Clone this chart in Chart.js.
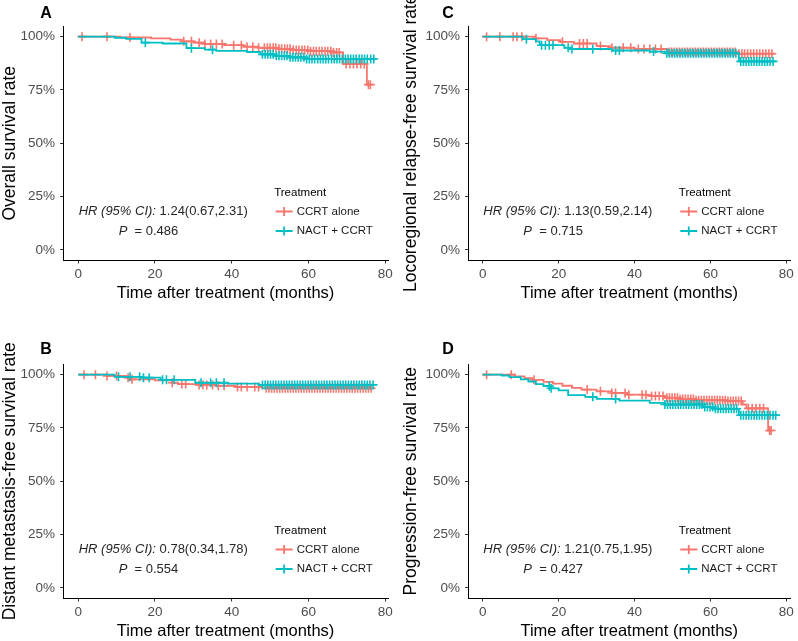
<!DOCTYPE html>
<html>
<head>
<meta charset="utf-8">
<script src="https://cdn.jsdelivr.net/npm/chart.js@4.4.0/dist/chart.umd.min.js"></script>
<style>
  body { margin: 0; background: #fff; }
  #wrap { position: relative; width: 798px; height: 641px; }
  canvas { position: absolute; }
</style>
</head>
<body>
<div id="wrap">
  <canvas id="chartA" width="399" height="303" style="left:0;top:0"></canvas>
  <canvas id="chartC" width="398" height="303" style="left:400px;top:0"></canvas>
  <canvas id="chartB" width="399" height="303" style="left:0;top:338px"></canvas>
  <canvas id="chartD" width="398" height="303" style="left:400px;top:338px"></canvas>
</div>
<script>
const xTicks = [0, 20, 40, 60, 80];
const yTicks = [0, 25, 50, 75, 100];
const groups = ["CCRT alone", "NACT + CCRT"];
const colors = ["#F8766D", "#00BFC4"];

// A: overall survival
const osCcrtTime = [0, 11, 19, 24, 27, 30, 33, 38, 43, 47, 52, 56, 60, 66, 69, 75.2, 76.3];
const osCcrtSurv = [100, 99.6, 99.2, 98.6, 97.8, 97.2, 96.6, 96.0, 95.3, 94.8, 94.3, 93.7, 93.2, 92.6, 87.2, 77.5, 77.5];
const osCcrtCensor = [1, 7.5, 13.5, 27.5, 29.5, 31.5, 33, 34.5, 36, 37.5, 40.5, 42.5, 44, 45.5, 47, 48.5, 49.3, 50, 50.8, 51.5, 52.3, 53, 53.8, 54.5, 55.2, 56, 56.8, 57.5, 58.3, 59, 59.8, 60.5, 61.3, 62, 62.8, 63.5, 64.3, 65, 65.8, 66.5, 67.3, 68, 69.8, 70.8, 71.7, 72.6, 73.6, 74.5, 75.6, 76.1];
const osNactTime = [0, 9.5, 12.5, 16.5, 22, 28.2, 33, 36, 44, 47.5, 51, 55, 59, 77.6];
const osNactSurv = [100, 99.5, 99.0, 97.2, 96.8, 94.6, 93.9, 93.3, 92.8, 91.7, 91.0, 90.3, 89.5, 89.5];
const osNactCensor = [17.5, 29.5, 35, 48, 48.7, 49.4, 50.1, 50.8, 51.6, 52.3, 53, 53.7, 54.4, 55.2, 55.9, 56.6, 57.3, 58, 58.8, 59.5, 60.2, 60.9, 61.6, 62.4, 63.1, 63.8, 64.5, 65.2, 66, 66.7, 67.4, 68.1, 68.8, 69.6, 70.3, 71, 71.7, 72.4, 73.2, 73.9, 74.6, 75.3, 76.2, 77];

// C: locoregional relapse-free survival
const lrCcrtTime = [0, 13.8, 17, 20.5, 24, 30, 33.5, 40, 48.5, 67, 77];
const lrCcrtSurv = [100, 99.2, 98.4, 97.6, 96.8, 95.6, 94.8, 94.2, 92.8, 92.0, 92.0];
const lrCcrtCensor = [1, 4.5, 8, 9, 10.3, 14, 21, 25.5, 26.5, 27.5, 31, 34, 37, 39, 41, 42.5, 44, 45.5, 47, 49, 49.7, 50.4, 51.1, 51.8, 52.5, 53.2, 53.9, 54.6, 55.3, 56, 56.7, 57.4, 58.1, 58.8, 59.5, 60.2, 60.9, 61.6, 62.3, 63, 63.7, 64.4, 65.1, 65.8, 66.5, 67.5, 68.3, 69, 69.8, 70.6, 71.4, 72.2, 73, 73.8, 74.6, 75.4, 76.2];
const lrNactTime = [0, 10.5, 14, 15, 21.5, 23, 34, 44, 48, 67.5, 77.3];
const lrNactSurv = [100, 98.8, 97.8, 96.0, 94.8, 94.2, 93.5, 93.0, 92.2, 88.4, 88.4];
const lrNactCensor = [11.5, 15.5, 16.5, 17.5, 18.5, 22.5, 23.5, 29, 35, 36, 45, 48.5, 49.2, 49.9, 50.6, 51.3, 52, 52.7, 53.4, 54.1, 54.8, 55.5, 56.2, 56.9, 57.6, 58.3, 59, 59.7, 60.4, 61.1, 61.8, 62.5, 63.2, 63.9, 64.6, 65.3, 66, 66.7, 68, 68.7, 69.4, 70.1, 70.8, 71.5, 72.2, 72.9, 73.6, 74.3, 75, 75.7, 76.5];

// B: distant metastasis-free survival
const dmCcrtTime = [0, 7.5, 12.5, 13.5, 20, 24.5, 26, 31, 36, 41, 48, 77];
const dmCcrtSurv = [100, 99.4, 98.6, 97.8, 97.3, 96.2, 95.6, 95.2, 94.8, 94.2, 93.6, 93.6];
const dmCcrtCensor = [1.5, 4.5, 7.5, 10, 13, 14, 24.5, 27, 28, 31.5, 32.5, 33.5, 35, 36.5, 38, 41.5, 42.5, 44, 46, 47, 49, 49.7, 50.4, 51.1, 51.8, 52.5, 53.2, 53.9, 54.6, 55.3, 56, 56.7, 57.4, 58.1, 58.8, 59.5, 60.2, 60.9, 61.6, 62.3, 63, 63.7, 64.4, 65.1, 65.8, 66.5, 67.2, 67.9, 68.6, 69.3, 70, 70.7, 71.4, 72.1, 72.8, 73.5, 74.2, 74.9, 75.6, 76.3];
const dmNactTime = [0, 9.5, 17, 21.5, 30.5, 39, 47, 77.3];
const dmNactSurv = [100, 99.0, 98.6, 97.6, 96.2, 95.8, 95.2, 95.2];
const dmNactCensor = [10.5, 13.5, 16, 17, 18.5, 22, 23, 25, 32, 34.5, 36, 38, 48, 48.7, 49.4, 50.1, 50.8, 51.5, 52.2, 52.9, 53.6, 54.3, 55, 55.7, 56.4, 57.1, 57.8, 58.5, 59.2, 59.9, 60.6, 61.3, 62, 62.7, 63.4, 64.1, 64.8, 65.5, 66.2, 66.9, 67.6, 68.3, 69, 69.7, 70.4, 71.1, 71.8, 72.5, 73.2, 73.9, 74.6, 75.3, 76, 76.8];

// D: progression-free survival
const pfCcrtTime = [0, 8.5, 11, 13, 16, 18.5, 21, 23.5, 26, 30, 34, 38, 44, 48, 52, 56, 64, 68.5, 69.5, 75.2, 76.2];
const pfCcrtSurv = [100, 99.2, 98.4, 97.6, 96.6, 95.8, 94.8, 93.8, 93.0, 92.2, 91.4, 90.6, 90.0, 89.2, 88.6, 88.0, 87.6, 86.0, 84.2, 73.8, 73.8];
const pfCcrtCensor = [1, 7.5, 13.5, 27.5, 31, 34, 35, 37.5, 38.5, 42, 43, 44.5, 45.5, 46.5, 47.5, 48.5, 49.2, 49.9, 50.6, 51.3, 52, 52.7, 53.4, 54.1, 54.8, 55.5, 56.2, 56.9, 57.6, 58.3, 59, 59.7, 60.4, 61.1, 61.8, 62.5, 63.2, 63.9, 64.6, 65.3, 66, 66.7, 67.4, 68.1, 70, 71, 72, 73, 74, 75.6, 76];
const pfNactTime = [0, 5, 7, 10, 12, 14, 16, 18, 20, 22.5, 27, 30, 36, 44, 48, 58, 61, 67.5, 77.7];
const pfNactSurv = [100, 99.6, 98.8, 97.8, 96.8, 95.6, 94.6, 93.6, 92.6, 90.4, 89.6, 88.6, 87.8, 86.8, 86.0, 84.8, 84.0, 81.0, 81.0];
const pfNactCensor = [17.5, 18, 29, 35, 48, 48.7, 49.4, 50.1, 50.8, 51.5, 52.2, 52.9, 53.6, 54.3, 55, 55.7, 56.4, 57.1, 57.8, 58.5, 59.2, 59.9, 60.6, 61.3, 62, 62.7, 63.4, 64.1, 64.8, 65.5, 66.2, 66.9, 68, 68.7, 69.4, 70.1, 70.8, 71.5, 72.2, 72.9, 73.6, 74.3, 75, 75.7, 76.5, 77.2];

const FONT = '"Liberation Sans", Arial, sans-serif';

function survAt(times, surv, t) {
    let v = surv[0];
    for (let i = 0; i < times.length; i++) {
        if (times[i] <= t) v = surv[i];
    }
    return v;
}

function curveData(times, surv) {
    return times.map((t, i) => ({ x: t, y: surv[i] }));
}

function censorData(times, surv, censor) {
    return censor.map((t) => ({ x: t, y: survAt(times, surv, t) }));
}

const annotate = {
    id: "annotate",
    afterDraw(chart, args, o) {
        const ctx = chart.ctx;
        const x0 = chart.scales.x.getPixelForValue(0);
        const area = chart.chartArea;
        ctx.save();

        // panel letter
        ctx.fillStyle = "#000";
        ctx.textAlign = "center";
        ctx.textBaseline = "middle";
        ctx.font = "bold 16px " + FONT;
        ctx.fillText(o.letter, o.letterX, o.letterY);

        // y axis title
        ctx.save();
        ctx.translate(o.yTitleX, (area.top + area.bottom) / 2);
        ctx.rotate(-Math.PI / 2);
        ctx.font = "17.5px " + FONT;
        ctx.fillText(o.yTitle, 0, 0);
        ctx.restore();

        // HR and P
        ctx.textAlign = "left";
        ctx.fillStyle = "#262626";
        let x = x0 + 0.5;
        ctx.font = "italic 13px " + FONT;
        ctx.fillText("HR (95% CI):", x, 211);
        x += ctx.measureText("HR (95% CI):").width;
        ctx.font = "13px " + FONT;
        ctx.fillText(" " + o.hr, x, 211);

        x = x0 + 40.5;
        ctx.font = "italic 13px " + FONT;
        ctx.fillText("P", x, 231);
        x += ctx.measureText("P").width;
        ctx.font = "13px " + FONT;
        ctx.fillText("  = " + o.p, x, 231);

        // legend
        ctx.fillStyle = "#000";
        ctx.font = "11.5px " + FONT;
        ctx.fillText("Treatment", x0 + 196, 192.5);
        const rows = [211.5, 231];
        groups.forEach((g, i) => {
            const y = rows[i];
            const kx1 = x0 + 197.5, kx2 = x0 + 214.5, kc = (kx1 + kx2) / 2;
            ctx.strokeStyle = colors[i];
            ctx.lineWidth = 1.8;
            ctx.beginPath();
            ctx.moveTo(kx1, y);
            ctx.lineTo(kx2, y);
            ctx.moveTo(kc, y - 4.5);
            ctx.lineTo(kc, y + 4.5);
            ctx.stroke();
            ctx.fillStyle = "#1a1a1a";
            ctx.fillText(g, x0 + 218.5, y);
        });
        ctx.restore();
    },
};

function renderPanel(id, series, o) {
    const datasets = [];
    // NACT + CCRT sits on top of CCRT alone
    series.forEach((s, i) => {
        datasets.push({
            label: groups[i],
            data: curveData(s.time, s.surv),
            borderColor: colors[i],
            borderWidth: 1.8,
            stepped: "before",
            pointRadius: 0,
            fill: false,
            order: i === 0 ? 3 : 1,
        });
        datasets.push({
            label: groups[i] + " censored",
            data: censorData(s.time, s.surv, s.censor),
            showLine: false,
            pointStyle: "cross",
            pointRadius: 4.5,
            borderColor: colors[i],
            backgroundColor: colors[i],
            pointBorderWidth: 1.6,
            order: i === 0 ? 2 : 0,
        });
    });

    new Chart(document.getElementById(id), {
        type: "line",
        data: { datasets },
        options: {
            responsive: false,
            animation: false,
            devicePixelRatio: 1,
            layout: { padding: { top: 26, right: o.padRight, left: 0, bottom: 0 } },
            plugins: {
                legend: { display: false },
                tooltip: { enabled: false },
                annotate: o,
            },
            scales: {
                x: {
                    type: "linear",
                    min: o.xMin,
                    max: o.xMax,
                    afterBuildTicks: (s) => { s.ticks = xTicks.map((v) => ({ value: v })); },
                    afterFit: (s) => { s.height = 42.5; },
                    grid: { drawOnChartArea: false, drawTicks: true, tickLength: 3, color: "#333" },
                    border: { display: true, color: "#000", width: 1 },
                    ticks: { color: "#4D4D4D", font: { family: FONT, size: 13.5 }, padding: 3, maxRotation: 0 },
                    title: {
                        display: true,
                        text: "Time after treatment (months)",
                        color: "#000",
                        font: { family: FONT, size: 16.5 },
                        padding: 0,
                    },
                },
                y: {
                    type: "linear",
                    min: -5,
                    max: 105,
                    afterBuildTicks: (s) => { s.ticks = yTicks.map((v) => ({ value: v })); },
                    afterFit: (s) => { s.width = o.axisWidth; },
                    grid: { drawOnChartArea: false, drawTicks: true, tickLength: 3, color: "#333" },
                    border: { display: true, color: "#000", width: 1 },
                    ticks: {
                        color: "#4D4D4D",
                        font: { family: FONT, size: 13.5 },
                        padding: 5,
                        callback: (v) => v + "%",
                    },
                },
            },
        },
        plugins: [annotate],
    });
}

renderPanel("chartA", [
    { time: osCcrtTime, surv: osCcrtSurv, censor: osCcrtCensor },
    { time: osNactTime, surv: osNactSurv, censor: osNactCensor },
], { letter: "A", letterX: 46, letterY: 13.5, yTitle: "Overall survival rate", yTitleX: 10,
     hr: "1.24(0.67,2.31)", p: "0.486", axisWidth: 63, padRight: 11, xMin: -3.95, xMax: 80.7 });

renderPanel("chartC", [
    { time: lrCcrtTime, surv: lrCcrtSurv, censor: lrCcrtCensor },
    { time: lrNactTime, surv: lrNactSurv, censor: lrNactCensor },
], { letter: "C", letterX: 48, letterY: 13.5, yTitle: "Locoregional relapse-free survival rate", yTitleX: 11.5,
     hr: "1.13(0.59,2.14)", p: "0.715", axisWidth: 68, padRight: 7.5, xMin: -3.9, xMax: 81.1 });

renderPanel("chartB", [
    { time: dmCcrtTime, surv: dmCcrtSurv, censor: dmCcrtCensor },
    { time: dmNactTime, surv: dmNactSurv, censor: dmNactCensor },
], { letter: "B", letterX: 46, letterY: 11.5, yTitle: "Distant metastasis-free survival rate", yTitleX: 10,
     hr: "0.78(0.34,1.78)", p: "0.554", axisWidth: 63, padRight: 11, xMin: -3.95, xMax: 80.7 });

renderPanel("chartD", [
    { time: pfCcrtTime, surv: pfCcrtSurv, censor: pfCcrtCensor },
    { time: pfNactTime, surv: pfNactSurv, censor: pfNactCensor },
], { letter: "D", letterX: 48, letterY: 11.5, yTitle: "Progression-free survival rate", yTitleX: 11.5,
     hr: "1.21(0.75,1.95)", p: "0.427", axisWidth: 68, padRight: 7.5, xMin: -3.9, xMax: 81.1 });
</script>
</body>
</html>
